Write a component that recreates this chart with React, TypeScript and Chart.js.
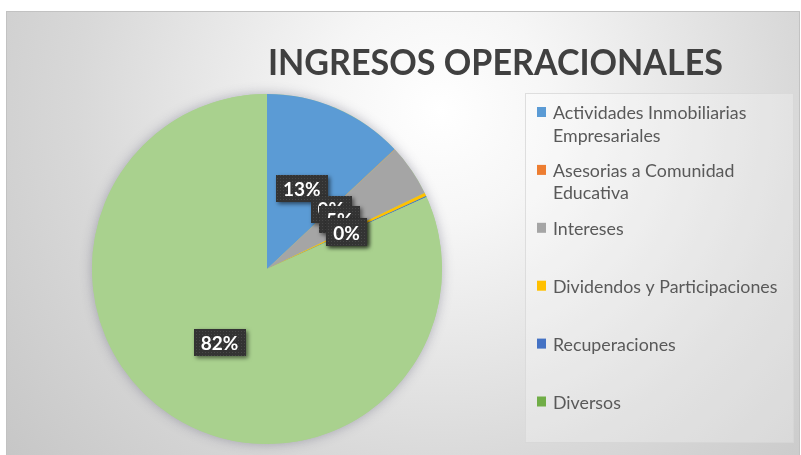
import { useEffect, useRef } from 'react';
import { Chart, registerables } from 'chart.js';

Chart.register(...registerables);

const TITLE = 'INGRESOS OPERACIONALES';
const CATEGORIES = [
  'Actividades Inmobiliarias Empresariales',
  'Asesorias a Comunidad Educativa',
  'Intereses',
  'Dividendos y Participaciones',
  'Recuperaciones',
  'Diversos',
];
const VALUES = [13.0, 0.05, 4.8, 0.3, 0.1, 81.75];

const PIE_COLORS = ['#5b9bd5', '#f08a4b', '#a5a5a5', '#ffc000', '#4472c4', '#a9d18e'];
const LEGEND_COLORS = ['#5b9bd5', '#ed7d31', '#a5a5a5', '#ffc000', '#4472c4', '#70ad47'];
const FONT = 'Lato, "Open Sans", sans-serif';

const W = 801;
const H = 455;

function fitText(ctx: CanvasRenderingContext2D, text: string, x: number, y: number, targetW: number | null) {
  const m = ctx.measureText(text).width;
  if (targetW && m > targetW) {
    ctx.save();
    ctx.translate(x, y);
    ctx.scale(targetW / m, 1);
    ctx.fillText(text, 0, 0);
    ctx.restore();
  } else {
    ctx.fillText(text, x, y);
  }
}

const backgroundPlugin = {
  id: 'bgPlugin',
  beforeDraw(chart: any) {
    const ctx = chart.ctx as CanvasRenderingContext2D;
    ctx.save();
    ctx.fillStyle = '#ffffff';
    ctx.fillRect(0, 0, W, H);
    const g = ctx.createRadialGradient(440, 110, 0, 440, 110, 560);
    g.addColorStop(0, '#ffffff');
    g.addColorStop(0.2, '#f6f6f6');
    g.addColorStop(0.65, '#d8d8d8');
    g.addColorStop(1, '#c6c6c6');
    ctx.fillStyle = g;
    ctx.fillRect(6, 11, W - 7, H - 11);
    ctx.strokeStyle = '#c2c2c2';
    ctx.lineWidth = 1;
    ctx.strokeRect(6.5, 11.5, W - 8, H);

    // title
    ctx.fillStyle = '#404040';
    ctx.font = `bold 36px ${FONT}`;
    ctx.textBaseline = 'alphabetic';
    ctx.textAlign = 'left';
    fitText(ctx, TITLE, 268, 75, 455);

    // legend box
    ctx.fillStyle = 'rgba(255,255,255,0.25)';
    ctx.fillRect(525, 93, 268, 349);
    ctx.strokeStyle = 'rgba(215,215,215,0.8)';
    ctx.strokeRect(525.5, 93.5, 268, 349);
    ctx.restore();
  },
  beforeDatasetsDraw(chart: any) {
    const meta = chart.getDatasetMeta(0);
    const el = meta.data[0];
    if (!el) return;
    const ctx = chart.ctx as CanvasRenderingContext2D;
    ctx.save();
    ctx.shadowColor = 'rgba(60,60,90,0.35)';
    ctx.shadowBlur = 12;
    ctx.fillStyle = PIE_COLORS[PIE_COLORS.length - 1];
    ctx.beginPath();
    ctx.arc(el.x, el.y, el.outerRadius, 0, Math.PI * 2);
    ctx.fill();
    ctx.restore();
  },
};

function makePattern(ctx: CanvasRenderingContext2D) {
  const c = document.createElement('canvas');
  c.width = 3;
  c.height = 3;
  const p = c.getContext('2d')!;
  p.fillStyle = '#333333';
  p.fillRect(0, 0, 3, 3);
  p.fillStyle = '#474747';
  p.fillRect(1, 1, 1, 1);
  return ctx.createPattern(c, 'repeat') || '#363636';
}

const labelsPlugin = {
  id: 'pctLabels',
  afterDatasetsDraw(chart: any) {
    const ctx = chart.ctx as CanvasRenderingContext2D;
    const meta = chart.getDatasetMeta(0);
    const data = chart.data.datasets[0].data as number[];
    const total = data.reduce((a, b) => a + b, 0);
    const pattern = makePattern(ctx);
    ctx.save();
    ctx.font = `bold 19px ${FONT}`;
    ctx.textAlign = 'center';
    ctx.textBaseline = 'middle';
    meta.data.forEach((el: any, i: number) => {
      const { startAngle, endAngle, outerRadius, x, y } = el.getProps(['startAngle', 'endAngle', 'outerRadius', 'x', 'y'], true);
      const mid = (startAngle + endAngle) / 2;
      const r = outerRadius * 0.5;
      const cx = x + Math.cos(mid) * r;
      const cy = y + Math.sin(mid) * r;
      const txt = Math.round((data[i] / total) * 100) + '%';
      const tw = ctx.measureText(txt).width;
      const bw = tw + 14;
      const bh = 27;
      ctx.save();
      ctx.shadowColor = 'rgba(0,0,0,0.55)';
      ctx.shadowBlur = 4;
      ctx.shadowOffsetX = 2;
      ctx.shadowOffsetY = 2;
      ctx.fillStyle = pattern as any;
      ctx.fillRect(Math.round(cx - bw / 2), Math.round(cy - bh / 2), Math.round(bw), bh);
      ctx.restore();
      ctx.fillStyle = '#ffffff';
      ctx.fillText(txt, cx, cy + 1);
    });
    ctx.restore();
  },
};

function wrap(ctx: CanvasRenderingContext2D, text: string, maxW: number) {
  const words = text.split(' ');
  const lines: string[] = [];
  let cur = '';
  for (const w of words) {
    const test = cur ? cur + ' ' + w : w;
    if (ctx.measureText(test).width > maxW && cur) {
      lines.push(cur);
      cur = w;
    } else {
      cur = test;
    }
  }
  if (cur) lines.push(cur);
  return lines;
}

const legendPlugin = {
  id: 'customLegend',
  afterDraw(chart: any) {
    const ctx = chart.ctx as CanvasRenderingContext2D;
    const labels = chart.data.labels as string[];
    ctx.save();
    ctx.font = `17.8px ${FONT}`;
    ctx.textAlign = 'left';
    ctx.textBaseline = 'alphabetic';
    labels.forEach((lab, i) => {
      const yc = 113 + i * 57.9;
      ctx.fillStyle = LEGEND_COLORS[i];
      ctx.fillRect(537, yc - 6, 9, 10);
      ctx.fillStyle = '#595959';
      const lines = wrap(ctx, lab, 228);
      lines.forEach((ln, j) => {
        fitText(ctx, ln, 553, yc + 6 + j * 22.5, 228);
      });
    });
    ctx.restore();
  },
};

export default function App() {
  const ref = useRef<HTMLCanvasElement | null>(null);
  useEffect(() => {
    if (!ref.current) return;
    const R = 175;
    const CX = 267;
    const CY = 269;
    const chart = new Chart(ref.current, {
      type: 'pie',
      data: {
        labels: CATEGORIES,
        datasets: [
          {
            data: VALUES,
            backgroundColor: PIE_COLORS,
            borderWidth: 0,
            hoverOffset: 0,
          },
        ],
      },
      options: {
        responsive: false,
        animation: false,
        devicePixelRatio: 1,
        events: [],
        layout: {
          padding: {
            left: CX - R,
            right: W - (CX + R),
            top: CY - R,
            bottom: H - (CY + R),
          },
        },
        plugins: {
          legend: { display: false },
          title: { display: false },
          tooltip: { enabled: false },
        },
      },
      plugins: [backgroundPlugin, labelsPlugin, legendPlugin],
    });
    return () => chart.destroy();
  }, []);
  return (
    <div style={{ position: 'absolute', left: 0, top: 0, width: W, height: H }}>
      <canvas ref={ref} width={W} height={H} style={{ display: 'block' }} />
    </div>
  );
}
